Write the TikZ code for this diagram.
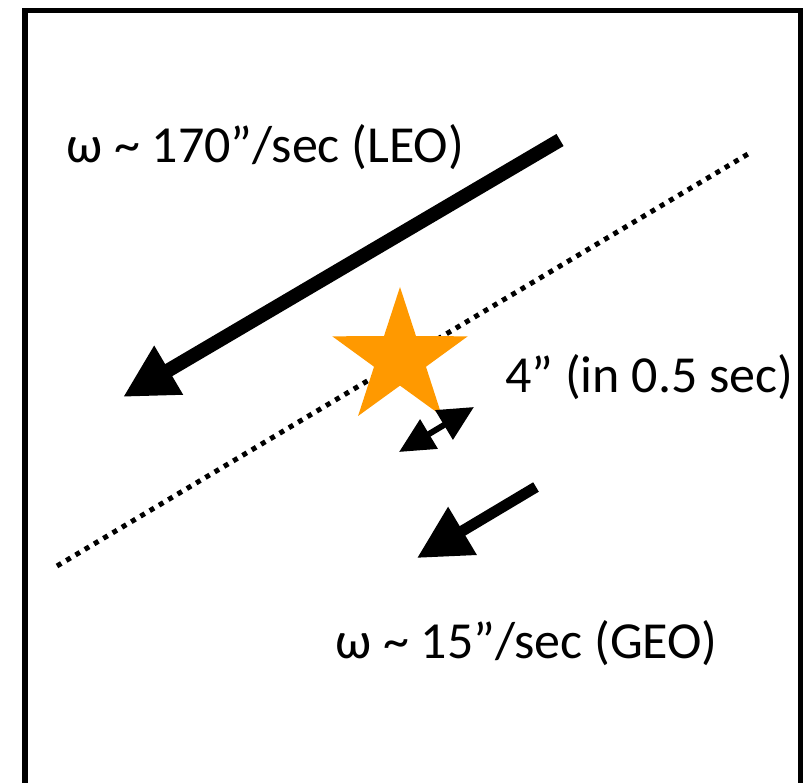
\documentclass[tikz,border=0pt]{standalone}
\usepackage{fontspec}
\setmainfont{Carlito}
\usetikzlibrary{arrows.meta}
\definecolor{starorange}{RGB}{255,153,0}
\begin{document}
\begin{tikzpicture}[x=1pt,y=-1pt,
  lbl/.style={font=\fontsize{52}{60}\selectfont, inner sep=0pt, anchor=base west},
  frameline/.style={line width=5.5pt, line join=miter},
  bigarrow/.style={line width=14pt, -{Triangle[length=53pt,width=53pt]}},
  smallarrow/.style={line width=11pt, -{Triangle[length=53pt,width=53pt]}},
  twoarrow/.style={line width=6pt, {Triangle[length=35pt,width=33pt]}-{Triangle[length=35pt,width=33pt]}},
  dotline/.style={line width=5pt, dash pattern=on 5pt off 5.8pt}
]
\useasboundingbox (0,0) rectangle (812,783);
% frame
\draw[frameline] (25,790) -- (25,10.5) -- (800.5,10.5) -- (800.5,790);
% dotted line
\coordinate (d1) at (57,566);
\coordinate (d2) at (748,154);
\draw[dotline] (d1) -- (d2);
% star
\coordinate (sc) at (400,358.3);
\fill[starorange]
  ({400+71.3*cos(270)},{358.3+71.3*sin(270)}) --
  ({400+27.3*cos(306)},{358.3+27.3*sin(306)}) --
  ({400+71.3*cos(342)},{358.3+71.3*sin(342)}) --
  ({400+27.3*cos(18)},{358.3+27.3*sin(18)}) --
  ({400+71.3*cos(54)},{358.3+71.3*sin(54)}) --
  ({400+27.3*cos(90)},{358.3+27.3*sin(90)}) --
  ({400+71.3*cos(126)},{358.3+71.3*sin(126)}) --
  ({400+27.3*cos(162)},{358.3+27.3*sin(162)}) --
  ({400+71.3*cos(198)},{358.3+71.3*sin(198)}) --
  ({400+27.3*cos(234)},{358.3+27.3*sin(234)}) -- cycle;
% LEO arrow
\coordinate (leoS) at (560,140);
\coordinate (leoT) at (123,397);
\draw[bigarrow] (leoS) -- (leoT);
% GEO arrow
\coordinate (geoS) at (536,487);
\coordinate (geoT) at (417,558);
\draw[smallarrow] (geoS) -- (geoT);
% 4" double arrow
\coordinate (dA) at (399,452);
\coordinate (dB) at (474,407);
\draw[twoarrow] (dA) -- (dB);
% labels
\node[lbl] (leo) at (66,163) {ω \textasciitilde{} 170”/sec (LEO)};
\node[lbl] (sep) at (505,393) {4” (in 0.5 sec)};
\node[lbl] (geo) at (335,658) {ω \textasciitilde{} 15”/sec (GEO)};
\end{tikzpicture}
\end{document}
